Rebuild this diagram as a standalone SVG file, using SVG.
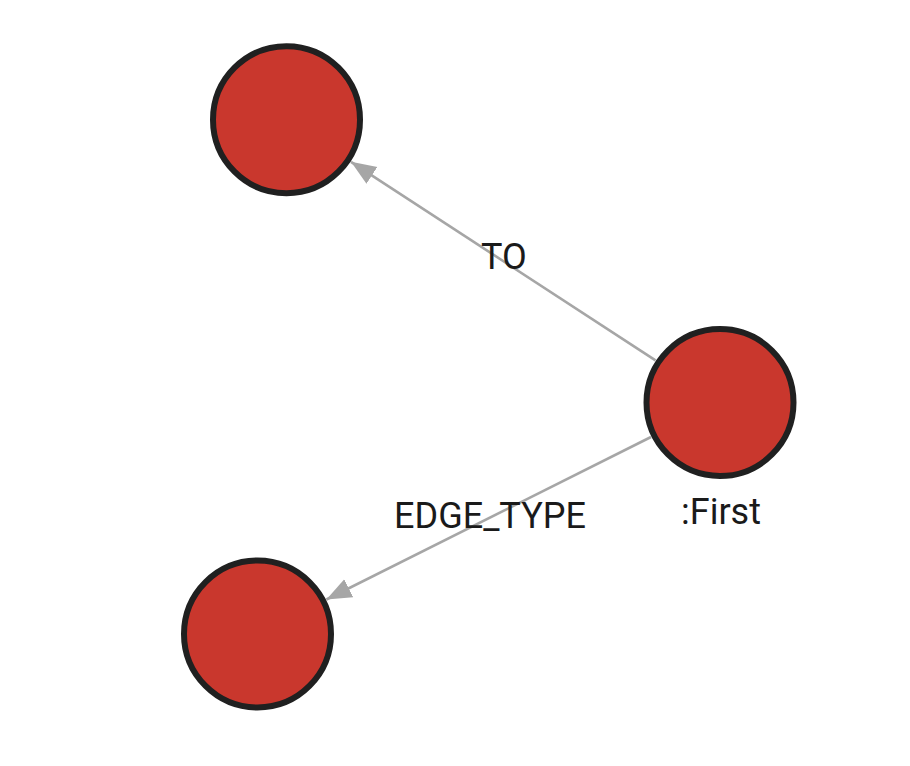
<svg xmlns="http://www.w3.org/2000/svg" width="910" height="766" viewBox="0 0 910 766">
<style>
.node{fill:#c9372d;stroke:#202020;stroke-width:6}
.edge{stroke:#a6a6a6;stroke-width:2.6;fill:none}
.lbl{font-family:Roboto,"Liberation Sans",sans-serif;font-size:36px;fill:#1a1a1a;text-anchor:middle}
</style>
<defs>
<marker id="arr" markerUnits="userSpaceOnUse" markerWidth="26" markerHeight="22" refX="25" refY="10" orient="auto">
<path d="M0,0 L25,10 L0,20 z" fill="#a6a6a6"/>
</marker>
</defs>
<rect width="910" height="766" fill="#ffffff"/>
<g id="edges">
<g id="e-to">
<line class="edge" x1="655.5" y1="360.4" x2="351" y2="161.8" marker-end="url(#arr)"/>
<text class="lbl" x="504" y="269">TO</text>
</g>
<g id="e-edge-type">
<line class="edge" x1="651" y1="437" x2="326.4" y2="599.5" marker-end="url(#arr)"/>
<text class="lbl" x="490" y="528">EDGE_TYPE</text>
</g>
</g>
<g id="n-top">
<circle class="node" cx="286.5" cy="119.7" r="73.5"/>
</g>
<g id="n-first">
<circle class="node" cx="720" cy="402.5" r="73.5"/>
<text class="lbl" x="721" y="524">:First</text>
</g>
<g id="n-bottom">
<circle class="node" cx="257.5" cy="634" r="73.5"/>
</g>
</svg>
